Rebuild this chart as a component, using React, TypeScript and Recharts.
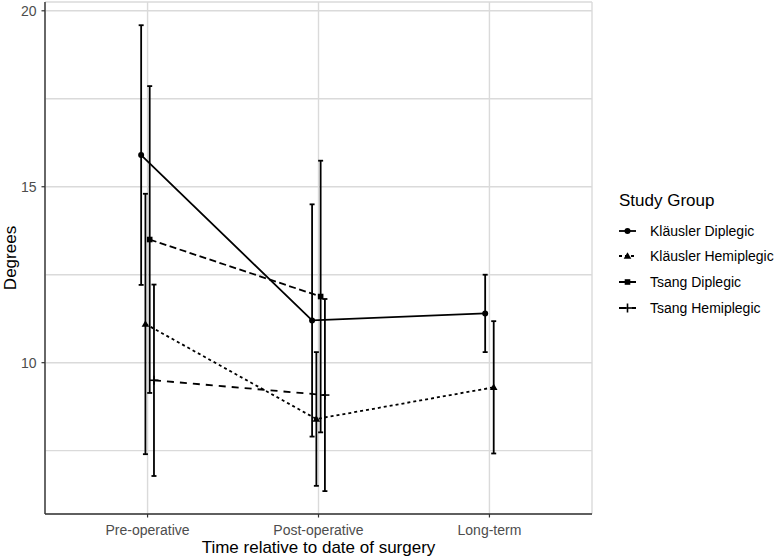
import React from 'react';
import {
  ComposedChart, Scatter, XAxis, YAxis, CartesianGrid, ErrorBar,
  ReferenceLine, ReferenceArea, Legend, Label,
} from 'recharts';

const categories = ['Pre-operative', 'Post-operative', 'Long-term'];
const yTicks = [10, 15, 20];
const minorGrid = [7.5, 12.5, 17.5];

const klausDiplegicMean = [15.9, 11.2, 11.4];
const klausDiplegicSd = [3.69, 3.3, 1.1];
const klausHemiplegicMean = [11.1, 8.4, 9.3];
const klausHemiplegicSd = [3.7, 1.9, 1.88];
const tsangDiplegicMean = [13.5, 11.88, null];
const tsangDiplegicSd = [4.36, 3.86, null];
const tsangHemiplegicMean = [9.5, 9.08, null];
const tsangHemiplegicSd = [2.72, 2.73, null];

const seriesNames = ['Kläusler Diplegic', 'Kläusler Hemiplegic', 'Tsang Diplegic', 'Tsang Hemiplegic'];
const seriesMeans = [klausDiplegicMean, klausHemiplegicMean, tsangDiplegicMean, tsangHemiplegicMean];
const seriesSds = [klausDiplegicSd, klausHemiplegicSd, tsangDiplegicSd, tsangHemiplegicSd];
const seriesDash = ['', '3 3', '7 3.5', '7 6'];
const seriesShape = ['circle', 'triangle', 'square', 'plus'];

const DODGE = 0.1;

// position_dodge-like offsets: groups present at each category share the dodge width
function buildSeries() {
  return seriesNames.map((name, s) => {
    const pts: any[] = [];
    categories.forEach((_, i) => {
      const present = seriesMeans.map((m, k) => (m[i] != null ? k : -1)).filter((k) => k >= 0);
      const n = present.length;
      const idx = present.indexOf(s);
      const v = seriesMeans[s][i];
      if (v == null) return;
      const off = (idx - (n - 1) / 2) * (DODGE / n);
      pts.push({ x: i + 1 + off, y: v, err: seriesSds[s][i] });
    });
    return { name, data: pts };
  });
}
const series = buildSeries();

const FONT = '"Liberation Sans", Arial, Helvetica, sans-serif';
const TICK_COLOR = '#4d4d4d';

function Marker({ kind, cx, cy }: { kind: string; cx: number; cy: number }) {
  if (kind === 'circle') return <circle cx={cx} cy={cy} r={3} fill="#000" />;
  if (kind === 'triangle') {
    const s = 3.8;
    return <polygon points={`${cx},${cy - s} ${cx - s},${cy + s * 0.7} ${cx + s},${cy + s * 0.7}`} fill="#000" />;
  }
  if (kind === 'square') return <rect x={cx - 2.8} y={cy - 2.8} width={5.6} height={5.6} fill="#000" />;
  return (
    <g stroke="#000" strokeWidth={1.6}>
      <line x1={cx - 4.5} y1={cy} x2={cx + 4.5} y2={cy} />
      <line x1={cx} y1={cy - 4.5} x2={cx} y2={cy + 4.5} />
    </g>
  );
}

function makeShape(kind: string) {
  return (props: any) => {
    const { cx, cy } = props;
    if (cx == null || cy == null) return <g />;
    return <Marker kind={kind} cx={cx} cy={cy} />;
  };
}

function LegendContent() {
  return (
    <div style={{ fontFamily: FONT, color: '#000' }}>
      <div style={{ fontSize: 17, height: 28, lineHeight: '22px' }}>Study Group</div>
      {seriesNames.map((n, i) => (
        <div key={n} style={{ display: 'flex', alignItems: 'center', height: 25.6 }}>
          <svg width={17} height={18} style={{ display: 'block' }}>
            <line x1={0} y1={9} x2={17} y2={9} stroke="#000" strokeWidth={1.8}
              strokeDasharray={seriesDash[i] || undefined} />
            <Marker kind={seriesShape[i]} cx={8.5} cy={9} />
          </svg>
          <span style={{ fontSize: 14, marginLeft: 14, color: '#000' }}>{n}</span>
        </div>
      ))}
    </div>
  );
}

export default function App() {
  return (
    <div style={{ position: 'absolute', left: 0, top: 0, background: '#fff' }}>
      <ComposedChart width={779} height={558} margin={{ top: 2, right: 187, bottom: 0, left: 0 }}>
        <CartesianGrid stroke="#dadada" strokeWidth={1.4} />
        {minorGrid.map((v) => (
          <ReferenceLine key={v} y={v} stroke="#dadada" strokeWidth={1.4} />
        ))}
        <XAxis
          type="number"
          dataKey="x"
          domain={[0.4, 3.6]}
          ticks={[1, 2, 3]}
          allowDataOverflow
          tickFormatter={(v: number) => categories[Math.round(v) - 1]}
          height={44}
          stroke="#333"
          tick={{ fill: TICK_COLOR, fontSize: 14, fontFamily: FONT }}
          tickSize={3.5}
          tickMargin={8}
          tickLine={{ stroke: '#333', strokeWidth: 1.2 }}
          axisLine={{ stroke: '#333', strokeWidth: 1.4 }}
        >
          <Label value="Time relative to date of surgery" position="insideBottom" offset={5}
            style={{ fontSize: 17, fill: '#000', fontFamily: FONT }} />
        </XAxis>
        <YAxis
          type="number"
          dataKey="y"
          domain={[5.7, 20.25]}
          ticks={yTicks}
          allowDataOverflow
          width={45}
          tick={{ fill: TICK_COLOR, fontSize: 14, fontFamily: FONT }}
          tickSize={3.5}
          tickMargin={5}
          tickLine={{ stroke: '#333', strokeWidth: 1.2 }}
          axisLine={{ stroke: '#333', strokeWidth: 1.4 }}
        >
          <Label value="Degrees" angle={-90} position="insideLeft" offset={10}
            style={{ fontSize: 17, fill: '#000', fontFamily: FONT, textAnchor: 'middle' }} />
        </YAxis>
        <ReferenceArea fill="none" stroke="#333" strokeWidth={1.4} ifOverflow="visible" />
        {series.map((s, i) => (
          <Scatter
            key={s.name}
            name={s.name}
            data={s.data}
            fill="#000"
            isAnimationActive={false}
            line={{ stroke: '#000', strokeWidth: 1.8, strokeDasharray: seriesDash[i] || undefined }}
            lineType="joint"
            shape={makeShape(seriesShape[i])}
          >
            <ErrorBar dataKey="err" direction="y" width={2.5} stroke="#000" strokeWidth={1.8} />
          </Scatter>
        ))}
        <Legend
          layout="vertical"
          align="center"
          verticalAlign="middle"
          content={() => <LegendContent />}
          wrapperStyle={{ left: 619, top: 190, width: 160 }}
        />
      </ComposedChart>
    </div>
  );
}
